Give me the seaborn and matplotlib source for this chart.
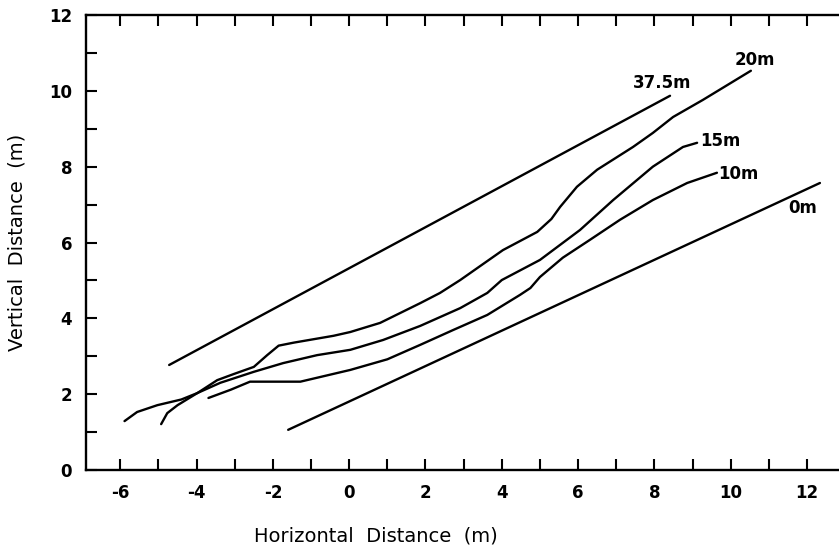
import numpy as np
import pandas as pd
import matplotlib.pyplot as plt
import seaborn as sns
from matplotlib.ticker import MultipleLocator

# profiles (horizontal, vertical distance in m)
x_0m = [-1.6, 12.34]
y_0m = [1.06, 7.57]

x_375m = [-4.72, 8.41]
y_375m = [2.77, 9.87]

x_20m = [-4.93, -4.77, -4.5, -3.98, -3.46, -3.03, -2.5, -2.15, -1.85, -1.45,
         -0.41, 0.03, 0.81, 1.86, 2.38, 2.91, 4.03, 4.93, 5.3, 5.53, 5.97, 6.5,
         7.44, 7.96, 8.49, 9.27, 10.53]
y_20m = [1.21, 1.5, 1.71, 2.03, 2.37, 2.53, 2.72, 3.03, 3.28, 3.36,
         3.54, 3.64, 3.88, 4.4, 4.67, 5.01, 5.8, 6.28, 6.62, 6.94, 7.47, 7.92,
         8.52, 8.89, 9.31, 9.76, 10.53]

x_15m = [-5.89, -5.56, -5.03, -4.4, -3.98, -3.38, -2.5, -1.73, -0.84, 0.03,
         0.89, 1.86, 2.91, 3.62, 4.0, 5.0, 6.05, 6.92, 7.96, 8.75, 9.12]
y_15m = [1.29, 1.53, 1.71, 1.86, 2.03, 2.3, 2.59, 2.82, 3.03, 3.17,
         3.43, 3.8, 4.27, 4.67, 5.01, 5.54, 6.33, 7.12, 8.0, 8.52, 8.63]

x_10m = [-3.69, -3.1, -2.6, -1.28, 0.03, 1.0, 1.86, 2.72, 3.62, 4.48, 4.75,
         5.0, 5.6, 6.31, 7.1, 7.96, 8.86, 9.64]
y_10m = [1.9, 2.12, 2.33, 2.33, 2.64, 2.92, 3.3, 3.69, 4.09, 4.62, 4.8,
         5.09, 5.6, 6.07, 6.6, 7.12, 7.57, 7.84]

labels = ["0m", "37.5m", "20m", "15m", "10m"]
label_x = [11.9, 8.2, 10.64, 9.72, 10.19]
label_y = [6.91, 10.2, 10.82, 8.68, 7.81]

sns.set_style("ticks")
plt.rcParams['font.family'] = ['DejaVu Sans']
plt.rcParams['axes.unicode_minus'] = False

fig = plt.figure(figsize=(8.39, 5.54), dpi=100)
ax = fig.add_axes([0.1025, 0.1516, 0.8975, 0.8213])

curves = [(x_0m, y_0m), (x_375m, y_375m), (x_20m, y_20m),
          (x_15m, y_15m), (x_10m, y_10m)]
for xs, ys in curves:
    df = pd.DataFrame({"x": xs, "y": ys})
    sns.lineplot(data=df, x="x", y="y", ax=ax, color="black", lw=1.7,
                 sort=False, estimator=None)

for lab, lx, ly in zip(labels, label_x, label_y):
    ax.text(lx, ly, lab, fontsize=12, fontweight="bold", ha="center",
            va="center", color="black")

ax.set_xlim(-6.9, 12.84)
ax.set_ylim(0, 12)
ax.xaxis.set_major_locator(MultipleLocator(2))
ax.xaxis.set_minor_locator(MultipleLocator(1))
ax.yaxis.set_major_locator(MultipleLocator(2))
ax.yaxis.set_minor_locator(MultipleLocator(1))
ax.set_xticks(range(-6, 13, 2))
ax.set_xticklabels([str(v) for v in range(-6, 13, 2)])
ax.tick_params(which="both", direction="in", top=True, right=False,
               width=1.5, length=8, labelsize=12, pad=10,
               color="black", labelcolor="black")
for lbl in ax.get_xticklabels() + ax.get_yticklabels():
    lbl.set_fontweight("bold")

ax.spines["right"].set_visible(False)
for s in ["left", "bottom", "top"]:
    ax.spines[s].set_linewidth(1.7)
    ax.spines[s].set_color("black")

ax.set_xlabel("Horizontal  Distance  (m)", fontsize=14, labelpad=18,
              color="black")
ax.set_ylabel("Vertical  Distance  (m)", fontsize=14, labelpad=16,
              color="black")
ax.xaxis.label.set_position((0.385, 0))

fig.savefig("out.png", dpi=100)
